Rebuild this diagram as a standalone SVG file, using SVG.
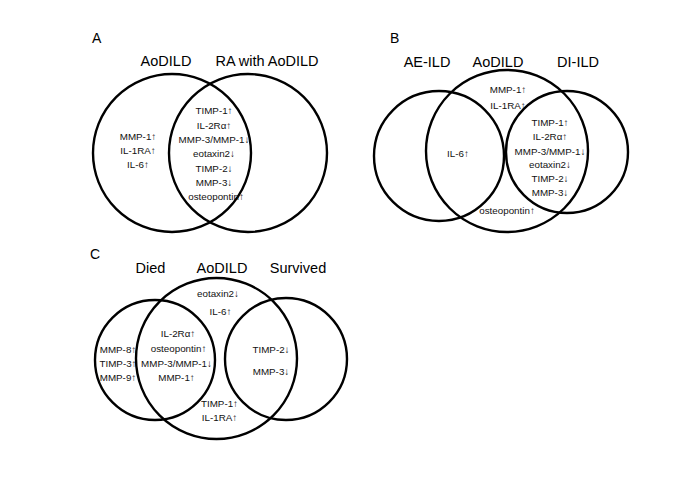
<svg xmlns="http://www.w3.org/2000/svg" width="685" height="484" viewBox="0 0 685 484">
<style>
.c{fill:none;stroke:#000;stroke-width:2.4}
.t{font-family:"Liberation Sans",Arial,sans-serif;font-size:14.5px;fill:#000;text-anchor:middle}
.p{font-family:"Liberation Sans",Arial,sans-serif;font-size:14px;fill:#000}
.s{font-family:"Liberation Sans",Arial,sans-serif;font-size:9.8px;fill:#111;text-anchor:middle}
</style>
<rect width="685" height="484" fill="#fff"/>
<g id="panelA">
<text class="p" x="92" y="43">A</text>
<g id="A-aodild"><circle class="c" cx="172" cy="153" r="79"/><text class="t" x="166" y="66">AoDILD</text>
<text class="s" x="138" y="139.5">MMP-1↑</text><text class="s" x="138" y="154">IL-1RA↑</text><text class="s" x="138" y="168">IL-6↑</text></g>
<g id="A-ra"><circle class="c" cx="248" cy="153" r="79"/><text class="t" x="267" y="66">RA with AoDILD</text></g>
<g id="A-both">
<text class="s" x="214" y="114">TIMP-1↑</text>
<text class="s" x="214" y="128.5">IL-2Rα↑</text>
<text class="s" x="214" y="143">MMP-3/MMP-1↓</text>
<text class="s" x="214" y="157">eotaxin2↓</text>
<text class="s" x="214" y="171.5">TIMP-2↓</text>
<text class="s" x="214" y="185.5">MMP-3↓</text>
<text class="s" x="216" y="200">osteopontin↑</text>
</g>
</g>
<g id="panelB">
<text class="p" x="390" y="43">B</text>
<g id="B-aeild"><circle class="c" cx="439" cy="156" r="65"/><text class="t" x="427" y="67">AE-ILD</text></g>
<g id="B-aodild"><circle class="c" cx="507" cy="151" r="81"/><text class="t" x="498" y="67">AoDILD</text>
<text class="s" x="508" y="93">MMP-1↑</text><text class="s" x="508" y="108.5">IL-1RA↑</text>
<text class="s" x="458" y="157">IL-6↑</text>
<text class="s" x="507" y="213.5">osteopontin↑</text></g>
<g id="B-diild"><circle class="c" cx="567" cy="152" r="61"/><text class="t" x="578" y="67">DI-ILD</text>
<text class="s" x="550" y="126">TIMP-1↑</text>
<text class="s" x="550" y="140">IL-2Rα↑</text>
<text class="s" x="550" y="154.5">MMP-3/MMP-1↓</text>
<text class="s" x="550" y="168">eotaxin2↓</text>
<text class="s" x="550" y="182">TIMP-2↓</text>
<text class="s" x="550" y="196">MMP-3↓</text></g>
</g>
<g id="panelC">
<text class="p" x="90" y="259">C</text>
<g id="C-died"><circle class="c" cx="155" cy="360" r="60"/><text class="t" x="150.5" y="273">Died</text>
<text class="s" x="118" y="352.5">MMP-8↑</text><text class="s" x="118" y="367">TIMP-3↑</text><text class="s" x="118" y="381">MMP-9↑</text></g>
<g id="C-aodild"><circle class="c" cx="216.5" cy="358.5" r="80.5"/><text class="t" x="222" y="273">AoDILD</text>
<text class="s" x="218" y="297">eotaxin2↓</text><text class="s" x="220.5" y="315">IL-6↑</text>
<text class="s" x="178" y="337">IL-2Rα↑</text><text class="s" x="178.5" y="352">osteopontin↑</text><text class="s" x="176.5" y="367">MMP-3/MMP-1↓</text><text class="s" x="176.5" y="381">MMP-1↑</text>
<text class="s" x="219.5" y="407">TIMP-1↑</text><text class="s" x="219.5" y="420.5">IL-1RA↑</text></g>
<g id="C-survived"><circle class="c" cx="286" cy="359" r="61"/><text class="t" x="298" y="273">Survived</text>
<text class="s" x="271" y="352.5">TIMP-2↓</text><text class="s" x="271" y="375">MMP-3↓</text></g>
</g>
</svg>
